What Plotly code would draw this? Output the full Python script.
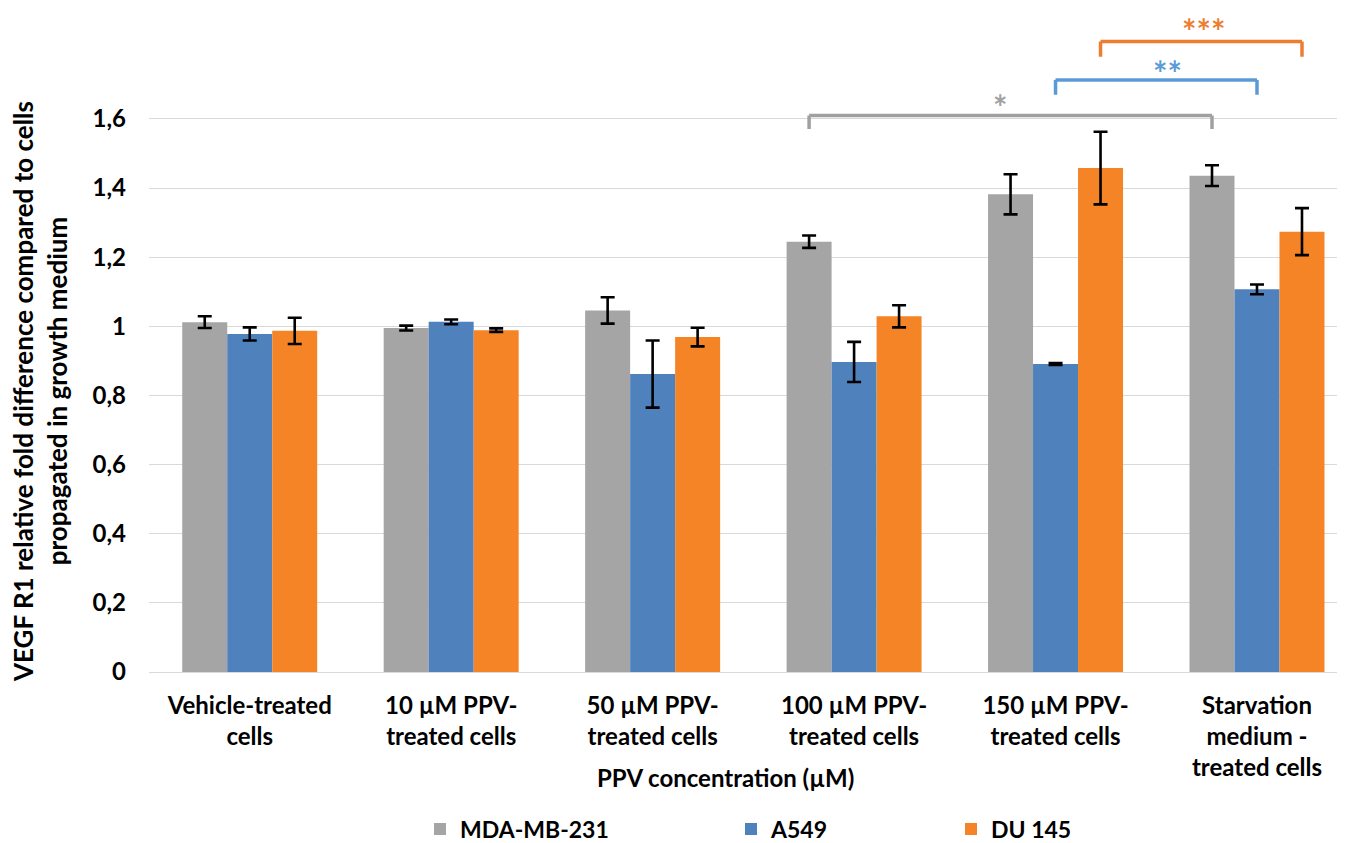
import plotly.graph_objects as go

categories = ["Vehicle-treated<br>cells", "10 µM PPV-<br>treated cells", "50 µM PPV-<br>treated cells",
              "100 µM PPV-<br>treated cells", "150 µM PPV-<br>treated cells",
              "Starvation<br>medium -<br>treated cells"]
series_names = ["MDA-MB-231", "A549", "DU 145"]
mda = [1.012, 0.995, 1.046, 1.245, 1.382, 1.436]
mda_err = [0.017, 0.007, 0.038, 0.018, 0.058, 0.030]
a549 = [0.978, 1.013, 0.862, 0.897, 0.891, 1.107]
a549_err = [0.019, 0.007, 0.097, 0.058, 0.003, 0.014]
du145 = [0.987, 0.989, 0.969, 1.029, 1.458, 1.274]
du145_err = [0.038, 0.005, 0.027, 0.032, 0.105, 0.068]
y_ticks = [0, 0.2, 0.4, 0.6, 0.8, 1.0, 1.2, 1.4, 1.6]

bar_colors = ["#A5A5A5", "#4F81BD", "#F58426"]
sig_colors = ["#A0A0A0", "#5B9BD5", "#ED7D31"]

# significance brackets:
# (series index, from category, to category, top y, leg y, label, label x (category units), label y)
brackets = [
    (0, 3, 5, 1.610, 1.571, "*", 3.724, 1.635),
    (1, 4, 5, 1.713, 1.670, "**", 4.558, 1.735),
    (2, 4, 5, 1.824, 1.780, "***", 4.732, 1.855),
]

# page pixel layout (browser body has an 8px margin, figure is offset by it)
OFF = 8
W, H = 1345 - OFF, 843 - OFF
ML = 149 - OFF
MR = 4
MT = 0
MB = H - (672 - OFF)
PW = W - ML - MR
PH = H - MT - MB

# legend symbol centres (page px) and legend text centre line (page px)
legend_px = [440, 751, 971]
legend_py = 829

FONT = "Lato"
FS = 24
bargap = 0.33
bar_w = (1 - bargap) / 3
offsets = [-bar_w, 0.0, bar_w]

fig = go.Figure()
for i, (name, vals, errs, col) in enumerate(zip(series_names, [mda, a549, du145],
                                                  [mda_err, a549_err, du145_err], bar_colors)):
    fig.add_trace(go.Bar(
        x=categories, y=vals, name=name,
        legend="legend" if i == 0 else f"legend{i + 1}",
        marker=dict(color=col, line=dict(width=0)),
        error_y=dict(type="data", array=errs, visible=True, color="black", thickness=2.6, width=7),
    ))

for si, c0, c1, ytop, yleg, label, xlab, ylab in brackets:
    x0 = c0 + offsets[si]
    x1 = c1 + offsets[si]
    col = sig_colors[si]
    for (xa, ya, xb, yb) in [(x0, yleg, x0, ytop), (x0, ytop, x1, ytop), (x1, ytop, x1, yleg)]:
        fig.add_shape(type="line", xref="x", yref="y", x0=xa, y0=ya, x1=xb, y1=yb,
                      line=dict(color=col, width=3.5))
    fig.add_annotation(x=xlab, y=ylab, xref="x", yref="y", text=label, showarrow=False,
                       font=dict(family=FONT, size=34, color=col, weight="bold"), yanchor="middle")

# axis titles
fig.add_annotation(xref="paper", yref="paper", x=0, y=(672 - 392) / PH, xshift=(40 - OFF) - ML,
                   xanchor="center", yanchor="middle",
                   text="<b>VEGF R1 relative fold difference compared to cells<br>propagated in growth medium</b>",
                   textangle=-90, showarrow=False, font=dict(family=FONT, size=26, color="black"))
fig.add_annotation(xref="paper", yref="paper", x=0, y=0, xshift=(725 - OFF) - ML, yshift=-105,
                   xanchor="center", yanchor="middle", text="<b>PPV concentration (µM)</b>", showarrow=False,
                   font=dict(family=FONT, size=FS, color="black"))

legend_common = dict(orientation="h", xanchor="left", y=-(legend_py - 672) / PH, yanchor="middle",
                     font=dict(family=FONT, size=23, color="black", weight="bold"),
                     itemwidth=30, bgcolor="rgba(0,0,0,0)")
legends = {}
for i, px in enumerate(legend_px):
    key = "legend" if i == 0 else f"legend{i + 1}"
    legends[key] = dict(legend_common, x=((px - OFF) - 20 - ML) / PW)

fig.update_layout(
    width=W, height=H,
    margin=dict(l=ML, r=MR, t=MT, b=MB, autoexpand=False),
    paper_bgcolor="white", plot_bgcolor="white",
    separators=", ",
    barmode="group", bargap=bargap, bargroupgap=0,
    font=dict(family=FONT, color="black"),
    showlegend=True,
    xaxis=dict(range=[-0.5, 5.417], tickfont=dict(family=FONT, size=FS, color="black", weight="bold"),
               showgrid=False, showline=False, ticks="", ticklabelstandoff=17, automargin=False),
    yaxis=dict(range=[0, 1.921], tickvals=y_ticks, showgrid=True, gridcolor="#D9D9D9", gridwidth=1.3,
               zeroline=True, zerolinecolor="#D9D9D9", zerolinewidth=1.3, automargin=False,
               tickfont=dict(family=FONT, size=FS, color="black", weight="bold"), ticks="",
               ticklabelstandoff=22),
    **legends,
)

fig.write_html("out.html")
